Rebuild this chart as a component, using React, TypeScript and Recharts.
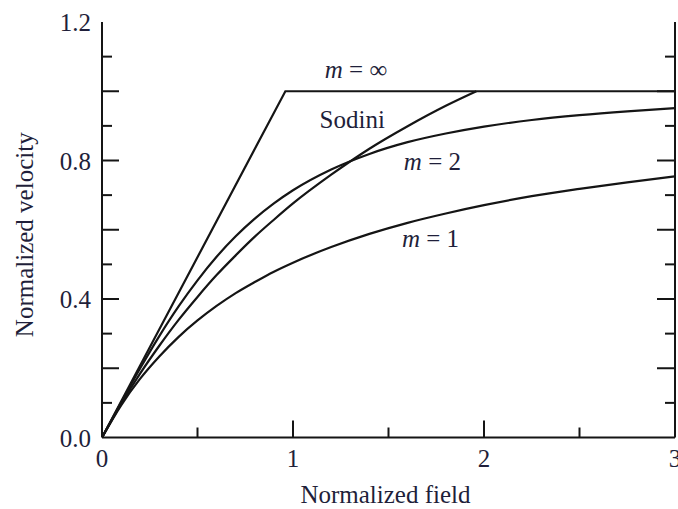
import React from "react";
import { LineChart, Line, XAxis, YAxis, ReferenceDot, Label } from "recharts";

// field values (normalized) shared by the m=1 and m=2 curves
const fieldPoints = [0, 0.1, 0.2, 0.3, 0.4, 0.5, 0.6, 0.7, 0.8, 0.9, 1.0, 1.2, 1.4, 1.6, 1.8, 2.0, 2.25, 2.5, 2.75, 3.0];
const velocityM1 = [0, 0.093, 0.17, 0.234, 0.29, 0.338, 0.38, 0.417, 0.449, 0.479, 0.505, 0.55, 0.588, 0.62, 0.647, 0.671, 0.697, 0.718, 0.737, 0.754];
const velocityM2 = [0, 0.101, 0.2, 0.293, 0.378, 0.454, 0.522, 0.581, 0.632, 0.676, 0.714, 0.774, 0.819, 0.853, 0.878, 0.898, 0.917, 0.931, 0.942, 0.951];

const sodiniField = [0, 0.1, 0.2, 0.3, 0.4, 0.5, 0.6, 0.7, 0.8, 0.9, 1.0, 1.2, 1.4, 1.6, 1.8, 1.96];
const sodiniVelocity = [0, 0.097, 0.185, 0.265, 0.339, 0.406, 0.469, 0.526, 0.58, 0.629, 0.676, 0.759, 0.834, 0.899, 0.958, 1.0];

const mInfField = [0, 0.96, 3];
const mInfVelocity = [0, 1.0, 1.0];

const xTicks = [0, 0.5, 1, 1.5, 2, 2.5, 3];
const yTicks = [0, 0.1, 0.2, 0.3, 0.4, 0.5, 0.6, 0.7, 0.8, 0.9, 1.0, 1.1, 1.2];
const yLabelled = [0, 0.4, 0.8, 1.2];

const annotations = [
  { x: 1.33, y: 1.06, italic: "m", rest: " = \u221e" },
  { x: 1.31, y: 0.918, italic: "", rest: "Sodini" },
  { x: 1.73, y: 0.795, italic: "m", rest: " = 2" },
  { x: 1.72, y: 0.574, italic: "m", rest: " = 1" },
];

const zip = (xs: number[], ys: number[]) => xs.map((x, i) => ({ x, v: ys[i] }));

const m1Data = zip(fieldPoints, velocityM1);
const m2Data = zip(fieldPoints, velocityM2);
const sodiniData = zip(sodiniField, sodiniVelocity);
const mInfData = zip(mInfField, mInfVelocity);

const FONT = "'Liberation Serif', 'DejaVu Serif', serif";
const INK = "#151515";
const TEXT = "#1f1f3a";

const isMajorX = (v: number) => Number.isInteger(v);
const isMajorY = (v: number) => Math.round(v * 10) % 2 === 0;

const BottomTick = (p: any) => {
  const v = p.payload.value;
  const len = isMajorX(v) ? 17 : 10;
  return (
    <g>
      {v > 0 && v < 3 && <line x1={p.x} y1={p.y} x2={p.x} y2={p.y - len} stroke={INK} strokeWidth={2} />}
      {isMajorX(v) && (
        <text x={p.x} y={p.y + 29} textAnchor="middle" fontFamily={FONT} fontSize={25} fill={TEXT}>{v}</text>
      )}
    </g>
  );
};

const TopTick = (p: any) => {
  const v = p.payload.value;
  const len = isMajorX(v) ? 16 : 11;
  if (v <= 0 || v >= 3) return <g />;
  return <line x1={p.x} y1={p.y} x2={p.x} y2={p.y + len} stroke={INK} strokeWidth={2} />;
};

const LeftTick = (p: any) => {
  const v = p.payload.value;
  const len = isMajorY(v) ? 17 : 10;
  const labelled = yLabelled.some((t) => Math.abs(t - v) < 1e-6);
  return (
    <g>
      {v > 0 && v < 1.2 && <line x1={p.x} y1={p.y} x2={p.x + len} y2={p.y} stroke={INK} strokeWidth={2} />}
      {labelled && (
        <text x={p.x - 11} y={p.y + 9} textAnchor="end" fontFamily={FONT} fontSize={25} fill={TEXT}>{v.toFixed(1)}</text>
      )}
    </g>
  );
};

const RightTick = (p: any) => {
  const v = p.payload.value;
  const len = isMajorY(v) ? 18 : 10;
  if (v <= 0 || v >= 1.2) return <g />;
  return <line x1={p.x} y1={p.y} x2={p.x - len} y2={p.y} stroke={INK} strokeWidth={2} />;
};

const axisLine = { stroke: INK, strokeWidth: 2 };

const App: React.FC = () => (
  <div style={{ position: "absolute", left: 0, top: 0, background: "#fff" }}>
    <LineChart width={678} height={509} margin={{ top: 22, right: 0, bottom: 0, left: 0 }}>
      <XAxis
        xAxisId="bottom" type="number" dataKey="x" domain={[0, 3]} ticks={xTicks} interval={0}
        allowDataOverflow height={71.5} tickSize={0} tickMargin={0} tickLine={false}
        axisLine={axisLine} tick={BottomTick}
      >
        <Label
          content={({ viewBox }: any) => (
            <text x={viewBox.x + viewBox.width / 2 - 3} y={viewBox.y + 65.5} textAnchor="middle" fontFamily={FONT} fontSize={25} fill={TEXT}>
              Normalized field
            </text>
          )}
        />
      </XAxis>
      <XAxis
        xAxisId="top" orientation="top" type="number" domain={[0, 3]} ticks={xTicks} interval={0}
        allowDataOverflow height={0} tickSize={0} tickMargin={0} tickLine={false}
        axisLine={axisLine} tick={TopTick}
      />
      <YAxis
        yAxisId="left" type="number" domain={[0, 1.2]} ticks={yTicks} interval={0}
        allowDataOverflow width={102} tickSize={0} tickMargin={0} tickLine={false}
        axisLine={axisLine} tick={LeftTick}
      >
        <Label
          content={({ viewBox }: any) => {
            const cx = 33;
            const cy = viewBox.y + viewBox.height / 2 + 5;
            return (
              <text x={cx} y={cy} transform={`rotate(-90 ${cx} ${cy})`} textAnchor="middle" fontFamily={FONT} fontSize={25} fill={TEXT}>
                Normalized velocity
              </text>
            );
          }}
        />
      </YAxis>
      <YAxis
        yAxisId="right" orientation="right" type="number" domain={[0, 1.2]} ticks={yTicks} interval={0}
        allowDataOverflow width={3} tickSize={0} tickMargin={0} tickLine={false}
        axisLine={axisLine} tick={RightTick}
      />

      <Line xAxisId="bottom" yAxisId="left" data={m1Data} dataKey="v" type="monotone" stroke={INK} strokeWidth={2.2} dot={false} isAnimationActive={false} />
      <Line xAxisId="bottom" yAxisId="left" data={m2Data} dataKey="v" type="monotone" stroke={INK} strokeWidth={2.2} dot={false} isAnimationActive={false} />
      <Line xAxisId="bottom" yAxisId="left" data={sodiniData} dataKey="v" type="monotone" stroke={INK} strokeWidth={2.2} dot={false} isAnimationActive={false} />
      <Line xAxisId="bottom" yAxisId="left" data={mInfData} dataKey="v" type="linear" stroke={INK} strokeWidth={2.2} dot={false} isAnimationActive={false} />

      {annotations.map((a) => (
        <ReferenceDot
          key={a.rest}
          xAxisId="bottom" yAxisId="left" x={a.x} y={a.y} r={0}
          shape={(p: any) => (
            <text x={p.cx} y={p.cy + 8} textAnchor="middle" fontFamily={FONT} fontSize={25} fill={TEXT}>
              {a.italic && <tspan fontStyle="italic">{a.italic}</tspan>}
              {a.rest}
            </text>
          )}
        />
      ))}
    </LineChart>
  </div>
);

export default App;
